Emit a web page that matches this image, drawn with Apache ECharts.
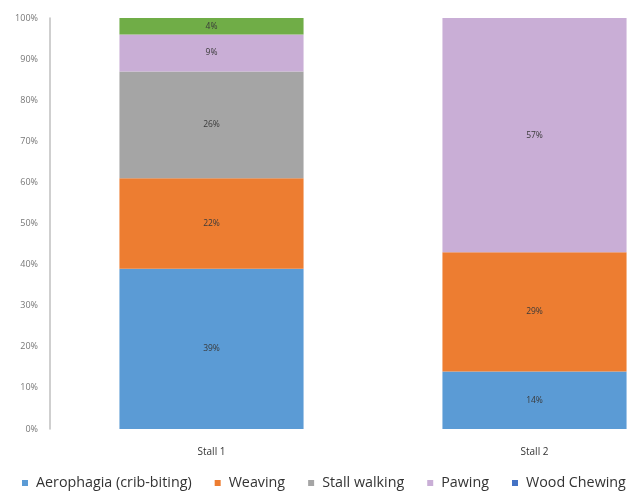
<!DOCTYPE html>
<html><head><meta charset="utf-8">
<script src="https://cdn.jsdelivr.net/npm/echarts@6/dist/echarts.min.js"></script>
<style>html,body{margin:0;padding:0;background:#fff}#c{width:637px;height:492px}</style>
</head><body><div id="c"></div>
<script>
const categories = ['Stall 1', 'Stall 2'];
const aerophagia = [39, 14];
const weaving = [22, 29];
const stallWalking = [26, 0];
const pawing = [9, 57];
const woodChewing = [0, 0];
const other = [4, 0];
const yTicks = [0, 10, 20, 30, 40, 50, 60, 70, 80, 90, 100];

const names = ['Aerophagia (crib-biting)', 'Weaving', 'Stall walking', 'Pawing', 'Wood Chewing', 'Other'];
const colors = ['#5B9BD5', '#ED7D31', '#A5A5A5', '#C9AED6', '#4472C4', '#70AD47'];
const datas = [aerophagia, weaving, stallWalking, pawing, woodChewing, other];

const chart = echarts.init(document.getElementById('c'));
chart.setOption({
  animation: false,
  grid: { left: 50, width: 646, top: 18, bottom: 63, outerBoundsMode: 'none', containLabel: false },
  legend: {
    data: names.slice(0, 5),
    left: 17, top: 476, width: 720, itemWidth: 6, itemHeight: 6, itemGap: 23, padding: [0, 0, 0, 5],
    icon: 'rect',
    textStyle: { fontFamily: 'Open Sans', fontSize: 14.3, color: '#333', padding: [0, 0, 0, 3] }
  },
  xAxis: {
    type: 'category', data: categories,
    axisLine: { show: false }, axisTick: { show: false },
    axisLabel: { fontFamily: 'Open Sans', fontSize: 10, color: '#333', margin: 18 }
  },
  yAxis: {
    type: 'value', min: 0, max: 100, interval: 10,
    axisLine: { show: true, lineStyle: { color: '#bfbfbf', width: 1.5 } },
    axisTick: { show: false },
    splitLine: { show: false },
    axisLabel: { fontFamily: 'Open Sans', fontSize: 9, color: '#777', margin: 12,
      formatter: v => yTicks.includes(v) ? v + '%' : '' }
  },
  series: datas.map((d, i) => ({
    name: names[i], type: 'bar', stack: 'a', data: d,
    barCategoryGap: '43%',
    itemStyle: { color: colors[i] },
    label: { show: true, position: 'inside', fontFamily: 'Open Sans', fontSize: 8.5, color: '#3a3a3a',
      formatter: p => p.value > 0 ? p.value + '%' : '' }
  }))
});
</script></body></html>
